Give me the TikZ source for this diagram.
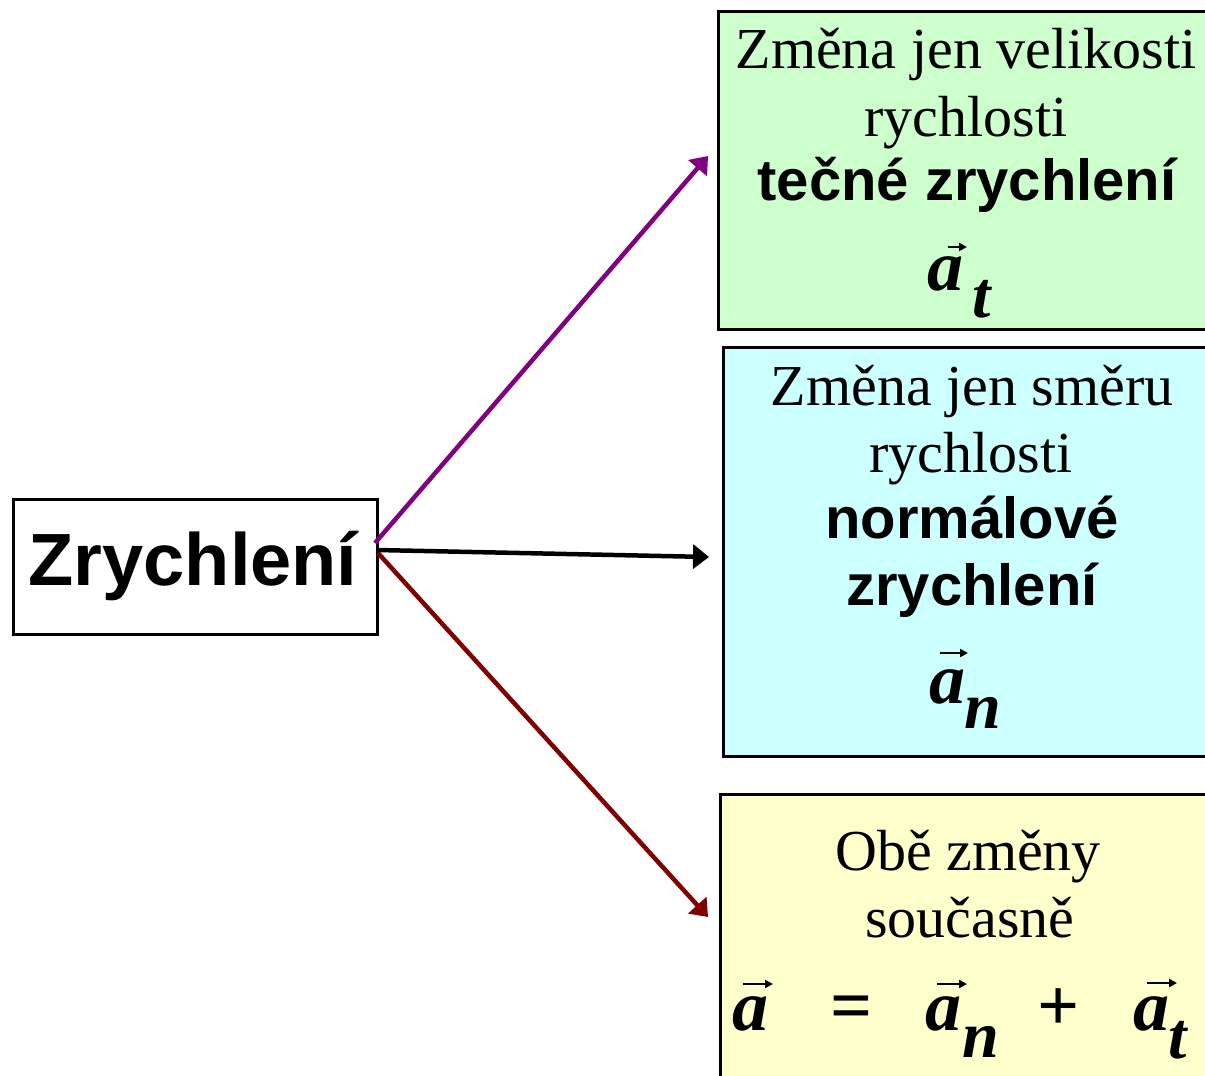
\documentclass[tikz,border=0pt]{standalone}
\usepackage{fontspec}
\setmainfont{Liberation Serif}
\newfontfamily\arialf{Liberation Sans}
\usetikzlibrary{arrows.meta}
\definecolor{boxgreen}{HTML}{CCFFCC}
\definecolor{boxblue}{HTML}{CCFFFF}
\definecolor{boxyellow}{HTML}{FFFFCC}
\definecolor{arrpurple}{HTML}{800080}
\definecolor{arrred}{HTML}{800000}
\tikzset{
  txt/.style={inner sep=0pt, anchor=base, font=\fontsize{58}{58}\selectfont},
  btxt/.style={inner sep=0pt, anchor=base, font=\arialf\fontsize{58}{58}\selectfont\bfseries},
  sym/.style={inner sep=0pt, anchor=base west, font=\fontsize{72}{72}\selectfont\bfseries\itshape},
  subs/.style={inner sep=0pt, anchor=base west, font=\fontsize{66}{66}\selectfont\bfseries\itshape},
  opr/.style={inner sep=0pt, anchor=base west, font=\fontsize{74}{74}\selectfont\bfseries},
  boxx/.style={draw=black, line width=2.5pt, inner sep=0pt, anchor=north west},
  conn/.style={line width=4.5pt, -{Triangle[length=16pt,width=24pt]}},
  vecarr/.style={line width=2pt, -{Triangle[length=8pt,width=8pt]}},
}
\begin{document}
\begin{tikzpicture}[x=1pt,y=-1pt]
\useasboundingbox (0,0) rectangle (1205,1076);
% boxes
\node[boxx, minimum width=364pt, minimum height=135pt] (zr) at (12,498) {};
\node[boxx, fill=boxgreen, minimum width=500pt, minimum height=318pt] (green) at (717,10) {};
\node[boxx, fill=boxblue, minimum width=496pt, minimum height=409pt] (blue) at (722,346) {};
\node[boxx, fill=boxyellow, minimum width=498pt, minimum height=320pt] (yellow) at (719,793) {};
% left label
\node[inner sep=0pt, anchor=base, font=\arialf\fontsize{74}{74}\selectfont\bfseries] (zrt) at (193,585) {Zrychlení};
% green texts
\node[txt] (g1) at (966,68) {Změna jen velikosti};
\node[txt] (g2) at (966,136) {rychlosti};
\node[btxt] (g3) at (967,200) {tečné zrychlení};
\node[sym] (gA) at (927,290) {a};
\node[subs] (gT) at (972,317) {t};
% blue texts
\node[txt] (b1) at (972,405) {Změna jen směru};
\node[txt] (b2) at (971,472) {rychlosti};
\node[btxt] (b3) at (972,538) {normálové};
\node[btxt] (b4) at (972,605) {zrychlení};
\node[sym] (bA) at (929,703) {a};
\node[subs] (bN) at (964,728) {n};
% yellow texts
\node[txt] (y1) at (968,870) {Obě změny};
\node[txt] (y2) at (970,937) {současně};
\node[sym] (e1) at (732,1030) {a};
\node[opr] (e2) at (830,1030) {=};
\node[sym] (e3) at (925,1030) {a};
\node[subs] (e4) at (962,1057) {n};
\node[opr] (e5) at (1037,1030) {+};
\node[sym] (e6) at (1133,1030) {a};
\node[subs] (e7) at (1168,1058) {t};
% vector arrows over the a's
\draw[vecarr] ([shift={(21,-43)}]gA.base west) -- ++(19,0);
\draw[vecarr] ([shift={(11,-50)}]bA.base west) -- ++(28,0);
\draw[vecarr] ([shift={(11,-46)}]e1.base west) -- ++(30,0);
\draw[vecarr] ([shift={(12,-46)}]e3.base west) -- ++(30,0);
\draw[vecarr] ([shift={(14,-47)}]e6.base west) -- ++(30,0);
% connectors
\coordinate (sP) at (375,543);
\coordinate (sK) at (377,550);
\coordinate (sR) at (378,553);
\coordinate (tP) at (708,156);
\coordinate (tK) at (709,557);
\coordinate (tR) at (708,917);
\draw[conn, arrpurple] (sP) -- (tP);
\draw[conn, black] (sK) -- (tK);
\draw[conn, arrred] (sR) -- (tR);
\end{tikzpicture}
\end{document}
